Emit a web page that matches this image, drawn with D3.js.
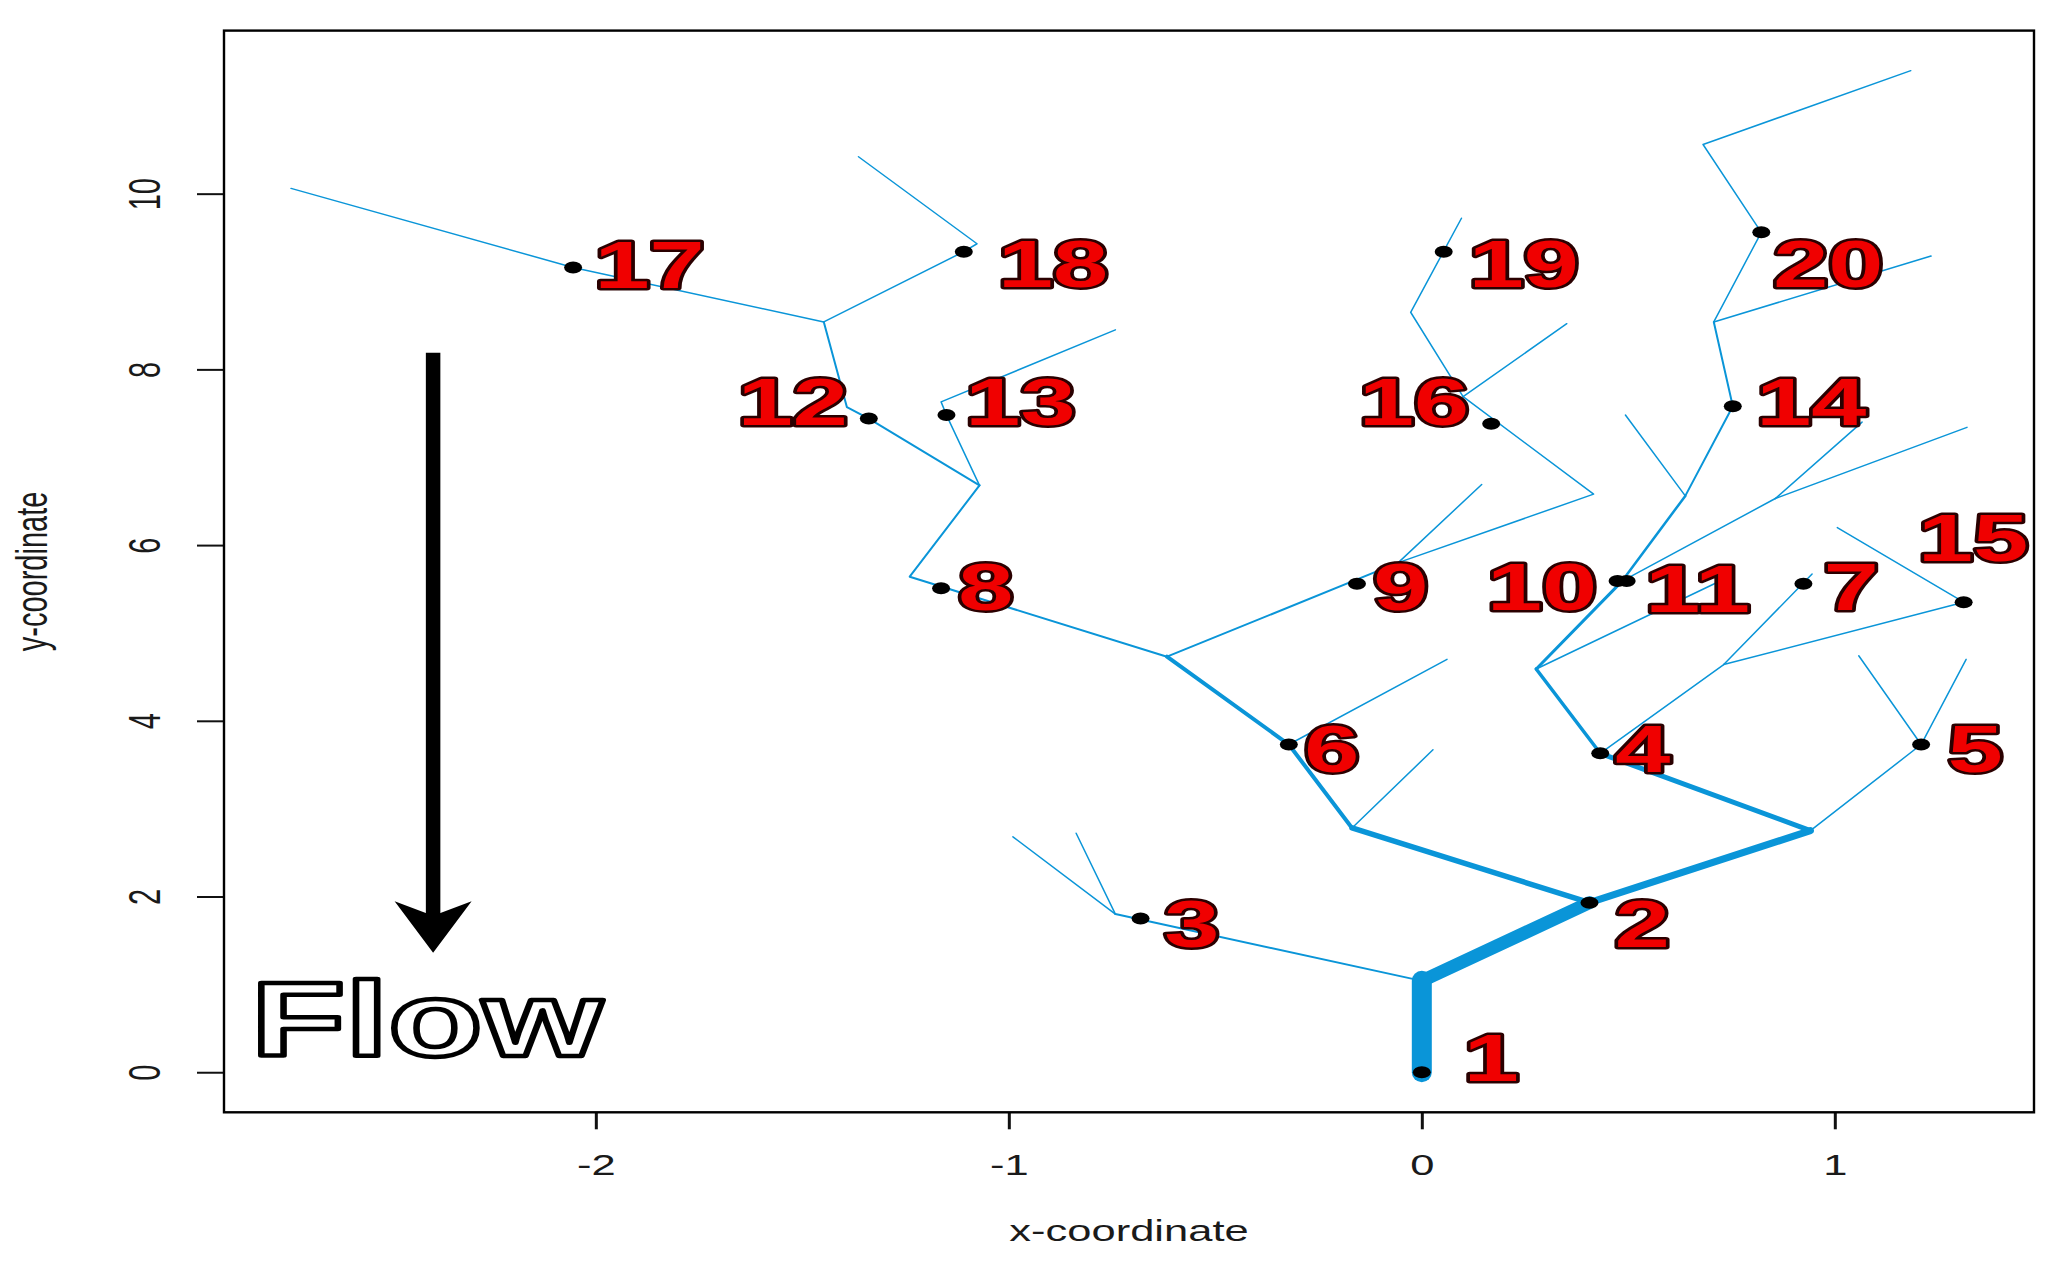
<!DOCTYPE html>
<html>
<head>
<meta charset="utf-8">
<script src="https://cdn.jsdelivr.net/npm/d3@7"></script>
<style>
  html, body { margin: 0; padding: 0; background: #fff; }
  svg { display: block; }
  .tick-label, .axis-title { font-family: "Liberation Sans", Arial, sans-serif; font-size: 29px; fill: #1a1a1a; }
  .site-label { font-family: "Liberation Sans", Arial, sans-serif; font-weight: bold; font-size: 66px;
                fill: #f00000; stroke: #2a0000; stroke-width: 5px; paint-order: stroke; stroke-linejoin: round; }
  .flow-label { font-family: "Liberation Sans", Arial, sans-serif; font-weight: bold; font-size: 105px;
                fill: #fff; stroke: #000; stroke-width: 4.5px; stroke-linejoin: round; }
</style>
</head>
<body>
<svg id="chart" width="2062" height="1273"></svg>
<script>
/* Simulated stream network: reaches drawn with width ~ additive function value,
 * sites 1..20 as black dots with big red labels. */

// ---- data -------------------------------------------------------------------
// each reach: polyline in (x-coordinate, y-coordinate), afv = relative flow
const reaches = [
  { afv: 1.000, pts: [[0, 0], [0, 1.04]] },
  { afv: 0.650, pts: [[0, 1.04], [0.406, 1.93]] },
  { afv: 0.100, pts: [[0, 1.04], [-0.742, 1.80]] },
  { afv: 0.075, pts: [[-0.742, 1.80], [-0.990, 2.68]] },
  { afv: 0.075, pts: [[-0.742, 1.80], [-0.837, 2.72]] },
  { afv: 0.275, pts: [[0.406, 1.93], [-0.169, 2.78]] },
  { afv: 0.350, pts: [[0.406, 1.93], [0.941, 2.75]] },
  { afv: 0.075, pts: [[-0.169, 2.78], [0.027, 3.67]] },
  { afv: 0.200, pts: [[-0.169, 2.78], [-0.322, 3.73], [-0.617, 4.73]] },
  { afv: 0.075, pts: [[-0.322, 3.73], [0.061, 4.70]] },
  { afv: 0.100, pts: [[-0.617, 4.73], [-1.240, 5.64], [-1.071, 6.68]] },
  { afv: 0.100, pts: [[-1.071, 6.68], [-1.339, 7.44], [-1.392, 7.57], [-1.448, 8.54]] },
  { afv: 0.075, pts: [[-1.071, 6.68], [-1.151, 7.48], [-1.164, 7.63], [-0.742, 8.45]] },
  { afv: 0.075, pts: [[-1.448, 8.54], [-2.055, 9.16], [-2.738, 10.06]] },
  { afv: 0.075, pts: [[-1.448, 8.54], [-1.109, 9.34], [-1.077, 9.43], [-1.364, 10.42]] },
  { afv: 0.100, pts: [[-0.617, 4.73], [-0.057, 5.80]] },
  { afv: 0.075, pts: [[-0.057, 5.80], [0.145, 6.69]] },
  { afv: 0.075, pts: [[-0.057, 5.80], [0.416, 6.58], [0.100, 7.69]] },
  { afv: 0.075, pts: [[0.100, 7.69], [0.351, 8.52]] },
  { afv: 0.075, pts: [[0.100, 7.69], [-0.027, 8.65], [0.096, 9.72]] },
  { afv: 0.075, pts: [[0.941, 2.75], [1.209, 3.73]] },
  { afv: 0.075, pts: [[1.209, 3.73], [1.058, 4.74]] },
  { afv: 0.075, pts: [[1.209, 3.73], [1.318, 4.70]] },
  { afv: 0.250, pts: [[0.941, 2.75], [0.432, 3.63]] },
  { afv: 0.175, pts: [[0.432, 3.63], [0.277, 4.59]] },
  { afv: 0.075, pts: [[0.432, 3.63], [0.731, 4.64]] },
  { afv: 0.075, pts: [[0.731, 4.64], [0.945, 5.67]] },
  { afv: 0.075, pts: [[0.731, 4.64], [1.312, 5.35], [1.006, 6.20]] },
  { afv: 0.150, pts: [[0.277, 4.59], [0.485, 5.59]] },
  { afv: 0.075, pts: [[0.277, 4.59], [0.735, 5.62]] },
  { afv: 0.125, pts: [[0.485, 5.59], [0.638, 6.56]] },
  { afv: 0.075, pts: [[0.485, 5.59], [0.856, 6.53]] },
  { afv: 0.075, pts: [[0.856, 6.53], [1.066, 7.40]] },
  { afv: 0.075, pts: [[0.856, 6.53], [1.320, 7.34]] },
  { afv: 0.075, pts: [[0.638, 6.56], [0.493, 7.48]] },
  { afv: 0.100, pts: [[0.638, 6.56], [0.753, 7.58], [0.707, 8.54]] },
  { afv: 0.075, pts: [[0.707, 8.54], [1.233, 9.29]] },
  { afv: 0.075, pts: [[0.707, 8.54], [0.822, 9.56], [0.681, 10.56], [1.184, 11.40]] },
];

const siteIds = [1, 2, 3, 4, 5, 6, 7, 8, 9, 10, 11, 12, 13, 14, 15, 16, 17, 18, 19, 20];
const siteX   = [0, 0.406, -0.681, 0.432, 1.209, -0.322, 0.924, -1.164, -0.157, 0.474,
                 0.496, -1.339, -1.151, 0.753, 1.312, 0.168, -2.055, -1.109, 0.053, 0.822];
const siteY   = [0, 1.93, 1.75, 3.63, 3.73, 3.73, 5.56, 5.51, 5.56, 5.59,
                 5.59, 7.44, 7.48, 7.58, 5.35, 7.38, 9.16, 9.34, 9.34, 9.56];
// label centres (same units as the sites)
const labelX  = [0.168, 0.534, -0.557, 0.535, 1.340, -0.218, 1.040, -1.056, -0.051, 0.291,
                 0.668, -1.523, -0.972, 0.943, 1.335, -0.019, -1.870, -0.893, 0.247, 0.984];
const labelY  = [0.17, 1.69, 1.69, 3.69, 3.69, 3.69, 5.53, 5.53, 5.53, 5.53,
                 5.51, 7.64, 7.64, 7.64, 6.09, 7.64, 9.19, 9.20, 9.20, 9.20];

const xTicks = [-2, -1, 0, 1];
const yTicks = [0, 2, 4, 6, 8, 10];
const xTitle = 'x-coordinate';
const yTitle = 'y-coordinate';

const flowArrow = { x: -2.394, from: 8.19, to: 1.36 };
const flowLabel = { text: 'Flow', x: -2.835, y: 0.19 };

// ---- layout -----------------------------------------------------------------
const W = 2062, H = 1273;
const box = { left: 224, right: 2034, top: 30.6, bottom: 1112.3 };
const SX = 1.5;                // the figure is stretched sideways
const LINE_COL = '#0a95d8';

const svg = d3.select('#chart').attr('width', W).attr('height', H);

// R-style 4% padding around the data range
const allPts = reaches.flatMap(r => r.pts);
const xe = d3.extent(allPts, p => p[0]), ye = d3.extent(allPts, p => p[1]);
const xp = 0.04 * (xe[1] - xe[0]), yp = 0.04 * (ye[1] - ye[0]);
const x = d3.scaleLinear().domain([xe[0] - xp, xe[1] + xp]).range([box.left, box.right]);
const y = d3.scaleLinear().domain([ye[0] - yp, ye[1] + yp]).range([box.bottom, box.top]);
const width = d3.scaleLinear().domain([0, 1]).range([0, 20]);

// ---- axes -------------------------------------------------------------------
const gx = svg.append('g')
  .attr('transform', `translate(0,${box.bottom})`)
  .call(d3.axisBottom(x).tickValues(xTicks).tickSize(17).tickFormat(d => String(d)));
gx.select('.domain').remove();
gx.selectAll('line').attr('stroke', '#111').attr('stroke-width', 3);
gx.selectAll('text')
  .attr('class', 'tick-label').attr('y', 0).attr('dy', null)
  .attr('transform', `translate(0,63) scale(${SX},1)`);

const gy = svg.append('g')
  .attr('transform', `translate(${box.left},0)`)
  .call(d3.axisLeft(y).tickValues(yTicks).tickSize(27).tickFormat(d => String(d)));
gy.select('.domain').remove();
gy.selectAll('line').attr('stroke', '#111').attr('stroke-width', 2);
gy.selectAll('text')
  .attr('class', 'tick-label').attr('x', 0).attr('dy', null)
  .attr('text-anchor', 'middle')
  .attr('transform', `translate(-64,0) scale(${SX},1) rotate(-90)`);

svg.append('rect')
  .attr('x', box.left).attr('y', box.top)
  .attr('width', box.right - box.left).attr('height', box.bottom - box.top)
  .attr('fill', 'none').attr('stroke', '#000').attr('stroke-width', 2.4);

svg.append('text').attr('class', 'axis-title').attr('text-anchor', 'middle')
  .attr('transform', `translate(${(box.left + box.right) / 2},1241) scale(${SX},1)`)
  .text(xTitle);
svg.append('text').attr('class', 'axis-title').attr('text-anchor', 'middle')
  .attr('transform', `translate(47,${(box.top + box.bottom) / 2}) scale(${SX},1) rotate(-90)`)
  .text(yTitle);

// ---- stream network ---------------------------------------------------------
const line = d3.line().x(p => x(p[0])).y(p => y(p[1]));
svg.append('g').selectAll('path')
  .data(reaches.slice().sort((a, b) => a.afv - b.afv))
  .join('path')
  .attr('d', d => line(d.pts))
  .attr('fill', 'none')
  .attr('stroke', LINE_COL)
  .attr('stroke-width', d => width(d.afv))
  .attr('stroke-linecap', 'round')
  .attr('stroke-linejoin', 'round');

// ---- flow arrow -------------------------------------------------------------
const ax = x(flowArrow.x), aTop = y(flowArrow.from), aTip = y(flowArrow.to);
svg.append('line')
  .attr('x1', ax).attr('x2', ax).attr('y1', aTop).attr('y2', aTip - 36)
  .attr('stroke', '#000').attr('stroke-width', 14.5);
svg.append('path')
  .attr('d', `M${ax},${aTip} L${ax + 38.5},${aTip - 51.5} L${ax},${aTip - 37} L${ax - 38.5},${aTip - 51.5} Z`)
  .attr('fill', '#000');

svg.append('text').attr('class', 'flow-label')
  .attr('transform', `translate(${x(flowLabel.x)},${y(flowLabel.y)}) scale(1.47,1)`)
  .text(flowLabel.text);

// ---- sites ------------------------------------------------------------------
const sites = siteIds.map((id, i) => ({ id, x: siteX[i], y: siteY[i], lx: labelX[i], ly: labelY[i] }));

svg.append('g').selectAll('ellipse')
  .data(sites).join('ellipse')
  .attr('cx', d => x(d.x)).attr('cy', d => y(d.y))
  .attr('rx', 9).attr('ry', 6)
  .attr('fill', '#000');

svg.append('g').selectAll('text')
  .data(sites).join('text')
  .attr('class', 'site-label')
  .attr('text-anchor', 'middle')
  .attr('transform', d => `translate(${x(d.lx)},${y(d.ly) + 23.5}) scale(${SX},1)`)
  .text(d => d.id);
</script>
</body>
</html>
